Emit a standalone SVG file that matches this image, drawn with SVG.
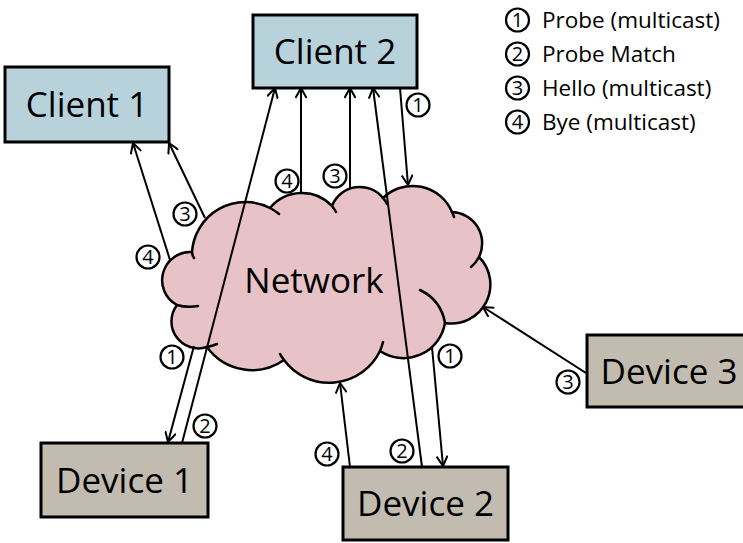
<svg xmlns="http://www.w3.org/2000/svg" width="743" height="543" viewBox="0 0 743 543">
  <style>
    .client { fill: #b8d2dc; stroke: #000; stroke-width: 3; }
    .device { fill: #c1bbb0; stroke: #000; stroke-width: 3; }
    .big { font-family: "Open Sans", "Liberation Sans", sans-serif; font-size: 35px; fill: #000; text-anchor: middle; }
    .leg { font-family: "Open Sans", "Liberation Sans", sans-serif; font-size: 22.5px; fill: #000; }
    .ring { fill: #fff; fill-opacity: 0; stroke: #000; stroke-width: 2.2; }
    .num { font-family: "Open Sans", "Liberation Sans", sans-serif; font-size: 20px; fill: #000; text-anchor: middle; }
    .conn { stroke: #000; stroke-width: 2; fill: none; }
    .arr { marker-end: url(#head); }
    .cloud { fill: #e7c2c6; stroke: #000; stroke-width: 2.5; stroke-linejoin: round; }
    .tick { fill: none; stroke: #000; stroke-width: 2.5; stroke-linecap: round; }
  </style>
  <defs>
    <marker id="head" markerUnits="userSpaceOnUse" viewBox="0 0 12 12" refX="11" refY="6" markerWidth="12" markerHeight="12" orient="auto">
      <path d="M1,0.5 L11,6 L1,11.5" fill="none" stroke="#000" stroke-width="2" stroke-linejoin="miter"/>
    </marker>
  </defs>

  <g id="network">
    <path class="cloud" d="M177,305 A28.2 28.2 0 0 1 192,252 A53.5 53.5 0 0 1 270,208 A41.3 41.3 0 0 1 332,206 A29.8 29.8 0 0 1 383,198 A42.6 42.6 0 0 1 452,212 A31.3 31.3 0 0 1 479,257 A39 39 0 0 1 445,323 A42.1 42.1 0 0 1 380,351 A56.4 56.4 0 0 1 284,360 A55.6 55.6 0 0 1 207,347 A27 27 0 0 1 177,305 Z"/>
    <path class="tick" d="M177,305 Q187,308 198,306 M192,252 Q192,255 194,258 M270,208 A53.5 53.5 0 0 1 279,214 M332,206 A41.3 41.3 0 0 1 336,212 M383,198 A29.8 29.8 0 0 1 387,204 M452,212 A42.6 42.6 0 0 1 454,217 M479,257 A31.3 31.3 0 0 1 471,267 M420,290 Q441,300 445,323 M380,351 A56.4 56.4 0 0 0 383,342 M284,360 A56.4 56.4 0 0 1 280,354 M207,347 Q212,346 217,344"/>
    <text class="big" x="314" y="293">Network</text>
  </g>

  <g id="client1">
    <rect class="client" x="5" y="67" width="164" height="75"/>
    <text class="big" x="87" y="117">Client 1</text>
  </g>
  <g id="client2">
    <rect class="client" x="253" y="15" width="164" height="73"/>
    <text class="big" x="335" y="64">Client 2</text>
  </g>
  <g id="device1">
    <rect class="device" x="41" y="443" width="167" height="74"/>
    <text class="big" x="124.5" y="492.5">Device 1</text>
  </g>
  <g id="device2">
    <rect class="device" x="343" y="467" width="165" height="73"/>
    <text class="big" x="425.5" y="516">Device 2</text>
  </g>
  <g id="device3">
    <rect class="device" x="587" y="335" width="164" height="72"/>
    <text class="big" x="669" y="383.5">Device 3</text>
  </g>

  <g id="connectors">
    <line class="conn arr" x1="170" y1="260" x2="133" y2="143"/>
    <line class="conn arr" x1="205" y1="218" x2="169" y2="143"/>
    <line class="conn arr" x1="182" y1="443" x2="275" y2="88"/>
    <line class="conn arr" x1="301" y1="193" x2="301" y2="88"/>
    <line class="conn arr" x1="350" y1="188" x2="350" y2="88"/>
    <line class="conn arr" x1="422" y1="467" x2="373" y2="88"/>
    <line class="conn arr" x1="400" y1="88" x2="408" y2="185"/>
    <line class="conn arr" x1="194" y1="346" x2="168" y2="442"/>
    <line class="conn arr" x1="350" y1="467" x2="340" y2="383"/>
    <line class="conn arr" x1="432" y1="347" x2="443" y2="466"/>
    <line class="conn arr" x1="586" y1="373" x2="483" y2="307"/>
  </g>

  <g id="labels">
    <circle class="ring" cx="185" cy="214" r="11.5"/><text class="num" x="185" y="221">3</text>
    <circle class="ring" cx="148" cy="257" r="11.5"/><text class="num" x="148" y="264">4</text>
    <circle class="ring" cx="287" cy="181" r="11.5"/><text class="num" x="287" y="188">4</text>
    <circle class="ring" cx="335" cy="176" r="11.5"/><text class="num" x="335" y="183">3</text>
    <circle class="ring" cx="418" cy="105" r="11.5"/><text class="num" x="418" y="112">1</text>
    <circle class="ring" cx="172" cy="357" r="11.5"/><text class="num" x="172" y="364">1</text>
    <circle class="ring" cx="205" cy="426" r="11.5"/><text class="num" x="205" y="433">2</text>
    <circle class="ring" cx="327" cy="454" r="11.5"/><text class="num" x="327" y="461">4</text>
    <circle class="ring" cx="402" cy="451" r="11.5"/><text class="num" x="402" y="458">2</text>
    <circle class="ring" cx="450" cy="356" r="11.5"/><text class="num" x="450" y="363">1</text>
    <circle class="ring" cx="568" cy="382" r="11.5"/><text class="num" x="568" y="389">3</text>
  </g>

  <g id="legend">
    <circle class="ring" cx="517.5" cy="20" r="11.5"/><text class="num" x="517.5" y="27">1</text>
    <text class="leg" x="542" y="28">Probe (multicast)</text>
    <circle class="ring" cx="517.5" cy="54" r="11.5"/><text class="num" x="517.5" y="61">2</text>
    <text class="leg" x="542" y="62">Probe Match</text>
    <circle class="ring" cx="517.5" cy="88" r="11.5"/><text class="num" x="517.5" y="95">3</text>
    <text class="leg" x="542" y="96">Hello (multicast)</text>
    <circle class="ring" cx="517.5" cy="122" r="11.5"/><text class="num" x="517.5" y="129">4</text>
    <text class="leg" x="542" y="130">Bye (multicast)</text>
  </g>
</svg>
